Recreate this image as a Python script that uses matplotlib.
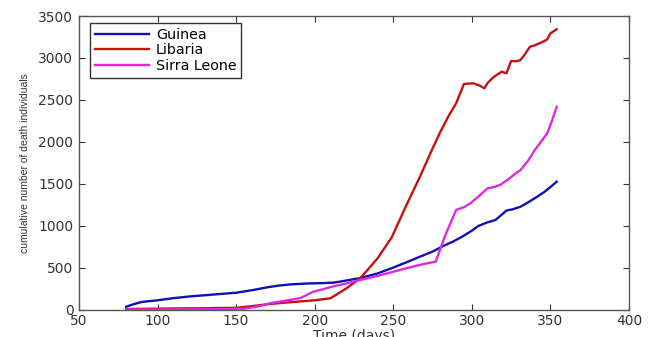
import matplotlib.pyplot as plt

plt.rcParams['font.family'] = ['DejaVu Sans']

guinea_t = [80, 85, 90, 100, 110, 120, 130, 140, 150, 160, 170, 177, 185, 195, 205, 212,
            220, 229, 240, 250, 260, 267, 275, 281, 288, 294, 300, 304, 310, 315, 319, 322,
            326, 331, 336, 341, 346, 350, 354]
guinea_d = [33, 65, 90, 110, 135, 155, 170, 185, 200, 230, 265, 285, 300, 310, 315, 320,
            345, 375, 430, 500, 575, 630, 690, 750, 810, 870, 940, 995, 1040, 1067, 1130, 1180,
            1195, 1226, 1280, 1338, 1400, 1460, 1524]

liberia_t = [80, 90, 100, 110, 120, 130, 140, 150, 160, 171, 180, 190, 200, 210, 220, 229,
             240, 249, 258, 267, 275, 280, 285, 290, 295, 301, 305, 308, 310, 313, 316, 319,
             322, 325, 328, 331, 334, 337, 340, 343, 346, 348, 350, 354]
liberia_d = [5, 8, 10, 12, 14, 15, 18, 20, 40, 65, 80, 95, 110, 133, 250, 372,
             610, 860, 1230, 1584, 1920, 2120, 2300, 2459, 2690, 2697, 2670, 2638, 2700, 2757, 2800, 2836,
             2816, 2963, 2960, 2975, 3050, 3134, 3150, 3174, 3200, 3222, 3293, 3341]

sierra_t = [80, 100, 120, 140, 155, 165, 172, 180, 191, 199, 205, 211, 220, 229, 240, 250,
            260, 270, 277, 283, 290, 295, 299, 305, 310, 314, 318, 323, 328, 331, 336, 340,
            344, 348, 351, 354]
sierra_d = [0, 0, 2, 5, 10, 40, 77, 100, 137, 212, 240, 272, 310, 352, 400, 450,
            500, 545, 570, 880, 1187, 1220, 1266, 1360, 1445, 1460, 1485, 1550, 1624, 1663, 1780, 1900,
            2000, 2101, 2250, 2418]

fig = plt.figure(figsize=(6.56, 3.37), dpi=100)
ax = fig.add_axes([0.1204, 0.0816, 0.8384, 0.8709])

ax.plot(guinea_t, guinea_d, color='#1010b4', lw=1.7, label='Guinea')
ax.plot(liberia_t, liberia_d, color='#c81010', lw=1.7, label='Libaria')
ax.plot(sierra_t, sierra_d, color='#e028e0', lw=1.7, label='Sirra Leone')

ax.set_xlim(50, 400)
ax.set_ylim(0, 3500)
ax.set_xticks(range(50, 401, 50))
ax.set_yticks(range(0, 3501, 500))
ax.tick_params(direction='in', top=True, right=True, labelsize=10, length=4,
               colors='#333333')
ax.tick_params(axis='y', pad=4)
ax.tick_params(axis='x', pad=3)
for s in ax.spines.values():
    s.set_color('#555555')
    s.set_linewidth(1.0)

ax.set_xlabel('Time (days)', fontsize=10, labelpad=1, color='#333333')
ax.set_ylabel('cumulative number of death individuals', fontsize=7.5, color='#333333',
              family='Liberation Sans', labelpad=6)

# legend box sits just inside the top-left corner
leg = ax.legend(loc='upper left', bbox_to_anchor=(11 / 550, 286.5 / 293.5),
                borderaxespad=0, fontsize=10.3, handlelength=3.8, handletextpad=0.45,
                borderpad=0.35, labelspacing=0.1, fancybox=False, framealpha=1)
leg.get_frame().set_edgecolor('#333333')
leg.get_frame().set_linewidth(1.0)

fig.savefig('out.png', dpi=100)
